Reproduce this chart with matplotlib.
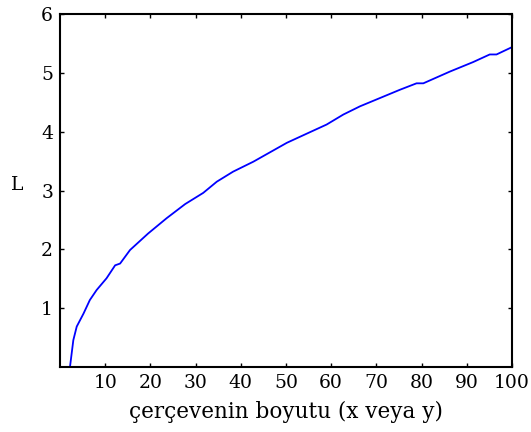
import matplotlib
matplotlib.use("Agg")
import matplotlib.pyplot as plt

# curve
frame_size = [2.2, 2.95, 3.7, 5.2, 6.6, 8.1, 10.3, 12.2, 13.3, 15.5, 19.5, 23.6,
              27.7, 31.7, 34.7, 38.3, 42.8, 46.5, 50.2, 55.3, 59.0, 62.7, 66.4,
              70.8, 75.2, 78.9, 80.4, 86.3, 91.4, 95.1, 96.6, 99.9]
L_values = [0.0, 0.46, 0.69, 0.91, 1.14, 1.31, 1.51, 1.73, 1.76, 1.99, 2.27, 2.53,
            2.77, 2.96, 3.15, 3.32, 3.49, 3.65, 3.81, 3.99, 4.12, 4.29, 4.43,
            4.57, 4.71, 4.82, 4.82, 5.02, 5.18, 5.31, 5.31, 5.43]
x_ticks = [10, 20, 30, 40, 50, 60, 70, 80, 90, 100]
y_ticks = [1, 2, 3, 4, 5, 6]

plt.rcParams['font.family'] = ['DejaVu Serif']
plt.rcParams['font.size'] = 13.5

fig = plt.figure(figsize=(5.31, 4.32), dpi=100)
ax = fig.add_axes([0.113, 0.150, 0.851, 0.818])
ax.plot(frame_size, L_values, color='#0000ff', linewidth=1.3)

ax.set_xlim(0, 100)
ax.set_ylim(0, 6)
ax.set_xticks(x_ticks)
ax.set_yticks(y_ticks)
ax.tick_params(direction='in', length=3, width=1, top=True, right=True, pad=5)
for s in ax.spines.values():
    s.set_linewidth(1.5)

ax.set_xlabel('çerçevenin boyutu (x veya y)', fontsize=15.5, labelpad=6)
ax.set_ylabel('L', rotation=0, va='center')
ax.yaxis.set_label_coords(-0.094, 0.515)

fig.savefig('out.png', dpi=100)
